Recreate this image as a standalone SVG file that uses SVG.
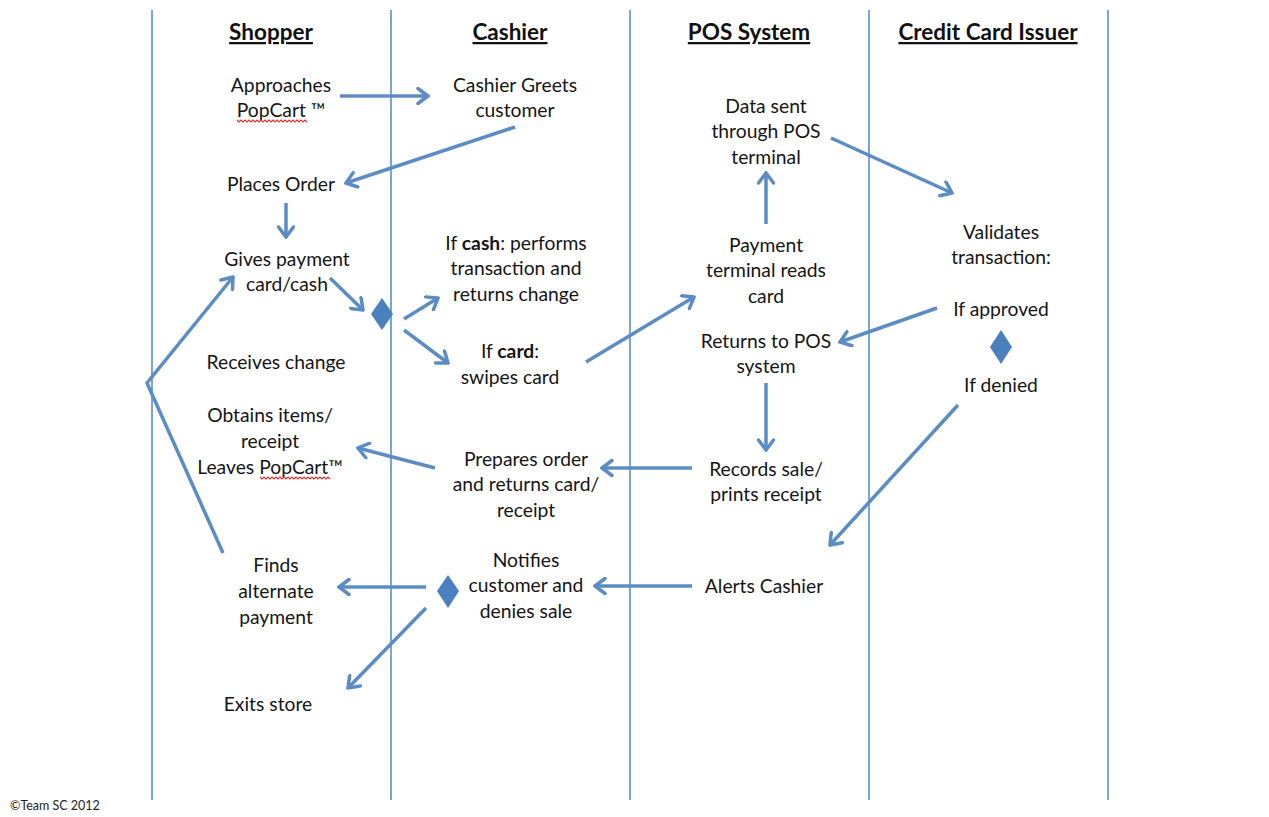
<svg xmlns="http://www.w3.org/2000/svg" width="1269" height="817" viewBox="0 0 1269 817">
<style>
.t{font-family:Lato,"Open Sans",sans-serif;font-size:19.3px;fill:#151515;text-anchor:middle}
.h{font-family:Lato,"Open Sans",sans-serif;font-size:22.5px;font-weight:bold;fill:#111;text-anchor:middle;text-decoration:underline}
.b{font-weight:bold}
.lane{stroke:#7aa6d6;stroke-width:2}
.c{fill:none;stroke:#5b8dc4;stroke-width:3.5;marker-end:url(#ah)}
.d{fill:#4a80be}
.sq{fill:none;stroke:#e03030;stroke-width:1.2}
</style>
<defs>
<marker id="ah" viewBox="0 0 14 18" refX="12" refY="9" markerWidth="14" markerHeight="18" orient="auto" markerUnits="userSpaceOnUse">
<path d="M2,1.5 L12,9 L2,16.5" fill="none" stroke="#5b8dc4" stroke-width="3.5" stroke-linecap="round"/>
</marker>
</defs>
<rect width="1269" height="817" fill="#fff"/>
<g id="lanes">
<line class="lane" x1="152" y1="10" x2="152" y2="800"/>
<line class="lane" x1="391" y1="10" x2="391" y2="800"/>
<line class="lane" x1="630" y1="10" x2="630" y2="800"/>
<line class="lane" x1="869" y1="10" x2="869" y2="800"/>
<line class="lane" x1="1108" y1="10" x2="1108" y2="800"/>
</g>
<g id="headers">
<text class="h" x="271" y="40">Shopper</text>
<text class="h" x="510" y="40">Cashier</text>
<text class="h" x="749" y="40">POS System</text>
<text class="h" x="988" y="40">Credit Card Issuer</text>
</g>
<g id="connectors">
<line class="c" x1="340" y1="96" x2="428" y2="96"/>
<line class="c" x1="515" y1="127" x2="346" y2="183"/>
<line class="c" x1="286" y1="203" x2="286" y2="237"/>
<line class="c" x1="330" y1="278" x2="363" y2="310"/>
<line class="c" x1="404" y1="319" x2="438" y2="298"/>
<line class="c" x1="404" y1="330" x2="448" y2="363"/>
<line class="c" x1="586" y1="362" x2="694" y2="297"/>
<line class="c" x1="766" y1="224" x2="766" y2="173"/>
<line class="c" x1="831" y1="138" x2="952" y2="193"/>
<line class="c" x1="937" y1="308" x2="840" y2="342"/>
<line class="c" x1="766" y1="383" x2="766" y2="450"/>
<line class="c" x1="692" y1="468" x2="602" y2="468"/>
<line class="c" x1="435" y1="468" x2="358" y2="448"/>
<line class="c" x1="958" y1="405" x2="830" y2="545"/>
<line class="c" x1="692" y1="586" x2="595" y2="586"/>
<line class="c" x1="426" y1="587" x2="339" y2="587"/>
<line class="c" x1="426" y1="608" x2="348" y2="688"/>
<polyline class="c" points="223,553 147,383 233,277"/>
</g>
<g id="n-approaches"><text class="t" x="281" y="92">Approaches</text><text class="t" x="281" y="117">PopCart ™</text>
<path class="sq" d="M237,120 l2,2 l2,-2 l2,2 l2,-2 l2,2 l2,-2 l2,2 l2,-2 l2,2 l2,-2 l2,2 l2,-2 l2,2 l2,-2 l2,2 l2,-2 l2,2 l2,-2 l2,2 l2,-2 l2,2 l2,-2 l2,2 l2,-2 l2,2 l2,-2 l2,2 l2,-2 l2,2 l2,-2 l2,2 l2,-2 l2,2 l2,-2 l2,2"/></g>
<g id="n-greets"><text class="t" x="515" y="92">Cashier Greets</text><text class="t" x="515" y="117">customer</text></g>
<g id="n-places"><text class="t" x="281" y="191">Places Order</text></g>
<g id="n-gives"><text class="t" x="287" y="266">Gives payment</text><text class="t" x="287" y="291">card/cash</text></g>
<g id="n-receives"><text class="t" x="276" y="369">Receives change</text></g>
<g id="n-obtains"><text class="t" x="270" y="422">Obtains items/</text><text class="t" x="270" y="448">receipt</text><text class="t" x="270" y="474">Leaves PopCart™</text>
<path class="sq" d="M260,477 l2,2 l2,-2 l2,2 l2,-2 l2,2 l2,-2 l2,2 l2,-2 l2,2 l2,-2 l2,2 l2,-2 l2,2 l2,-2 l2,2 l2,-2 l2,2 l2,-2 l2,2 l2,-2 l2,2 l2,-2 l2,2 l2,-2 l2,2 l2,-2 l2,2 l2,-2 l2,2 l2,-2 l2,2 l2,-2 l2,2 l2,-2 l2,2"/></g>
<g id="n-finds"><text class="t" x="276" y="572">Finds</text><text class="t" x="276" y="598">alternate</text><text class="t" x="276" y="624">payment</text></g>
<g id="n-exits"><text class="t" x="268" y="711">Exits store</text></g>
<g id="n-cash"><text class="t" x="516" y="250">If <tspan class="b">cash</tspan>: performs</text><text class="t" x="516" y="275">transaction and</text><text class="t" x="516" y="301">returns change</text></g>
<g id="n-card"><text class="t" x="510" y="358">If <tspan class="b">card</tspan>:</text><text class="t" x="510" y="384">swipes card</text></g>
<g id="n-prepares"><text class="t" x="526" y="466">Prepares order</text><text class="t" x="526" y="491">and returns card/</text><text class="t" x="526" y="517">receipt</text></g>
<g id="n-notifies"><text class="t" x="526" y="567">Notifies</text><text class="t" x="526" y="592">customer and</text><text class="t" x="526" y="618">denies sale</text></g>
<g id="n-datasent"><text class="t" x="766" y="113">Data sent</text><text class="t" x="766" y="138">through POS</text><text class="t" x="766" y="164">terminal</text></g>
<g id="n-payterm"><text class="t" x="766" y="252">Payment</text><text class="t" x="766" y="277">terminal reads</text><text class="t" x="766" y="303">card</text></g>
<g id="n-returns"><text class="t" x="766" y="348">Returns to POS</text><text class="t" x="766" y="373">system</text></g>
<g id="n-records"><text class="t" x="766" y="476">Records sale/</text><text class="t" x="766" y="501">prints receipt</text></g>
<g id="n-alerts"><text class="t" x="764" y="593">Alerts Cashier</text></g>
<g id="n-validates"><text class="t" x="1001" y="239">Validates</text><text class="t" x="1001" y="264">transaction:</text></g>
<g id="n-approved"><text class="t" x="1001" y="316">If approved</text></g>
<g id="n-denied"><text class="t" x="1001" y="392">If denied</text></g>
<g id="d-payment"><polygon class="d" points="382,298 393,314 382,330 371,314"/></g>
<g id="d-validate"><polygon class="d" points="1001,330 1012,347 1001,364 990,347"/></g>
<g id="d-notify"><polygon class="d" points="448,575 459,591 448,608 437,591"/></g>
<text x="10" y="810" style="font-family:Lato,'Open Sans',sans-serif;font-size:12.5px;fill:#222">©Team SC 2012</text>
</svg>
